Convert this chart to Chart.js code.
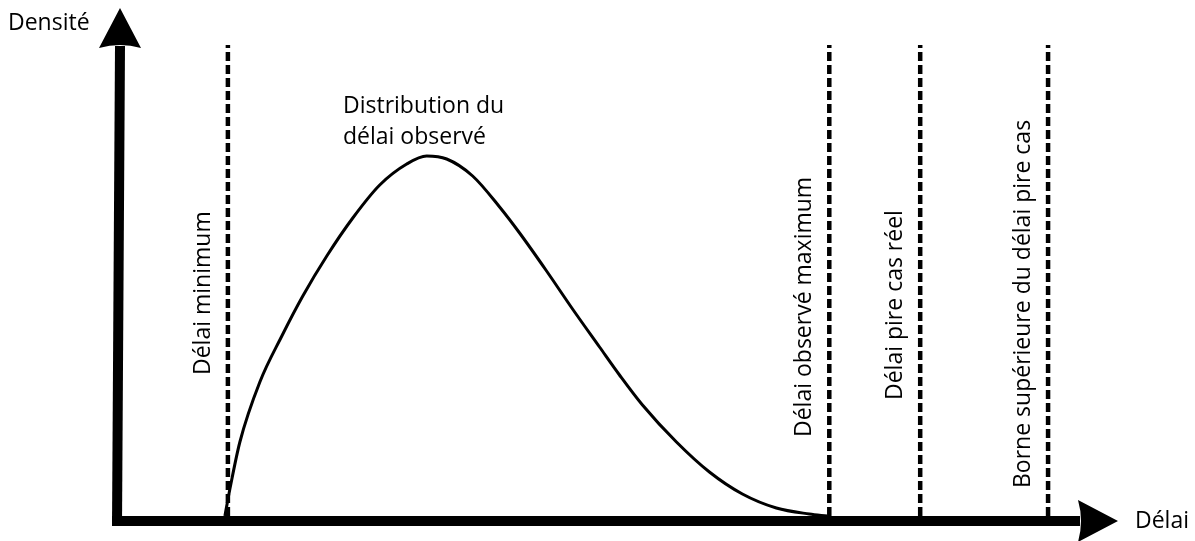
<!DOCTYPE html>
<html>
<head>
<meta charset="utf-8">
<script src="https://cdn.jsdelivr.net/npm/chart.js@4/dist/chart.umd.min.js"></script>
<style>
  body { margin: 0; background: #fff; }
  canvas { display: block; }
</style>
</head>
<body>
<canvas id="delayChart" width="1195" height="541"></canvas>
<script>
// observed delay distribution (x = delay, y = density)
const delays  = [106, 111, 121, 141, 163, 184, 208, 234, 261, 288, 308, 328, 354, 381, 401, 428, 454, 481, 501, 524, 558, 591, 624, 658, 691, 709];
const density = [0,   27,  74,  134, 180, 220, 260, 298, 331, 352, 360, 357, 340, 309, 283, 245, 207, 169, 141, 111, 74,  44,  22,  8,   2,   0];

// vertical reference delays
const markerLabels = ['Délai minimum', 'Délai observé maximum', 'Délai pire cas réel', 'Borne supérieure du délai pire cas'];
const markerDelays = [109, 711, 802, 930];
const markerTop = 471;

const xTitle = 'Délai';
const yTitle = 'Densité';
const curveTitle = ['Distribution du', 'délai observé'];

const FONT = '23px "Open Sans", sans-serif';

// where each vertical label starts (bottom end, pixels)
const markerLabelBottom = [375, 437, 400, 488];

const markerSets = markerDelays.map(function (d) {
    return {
        data: [{ x: d, y: 0 }, { x: d, y: markerTop }],
        borderColor: '#000',
        borderWidth: 4.5,
        borderDash: [9, 4],
        pointRadius: 0,
        clip: false
    };
});

const axesPlugin = {
    id: 'axesPlugin',
    afterDatasetsDraw(chart) {
        const ctx = chart.ctx;
        const xs = chart.scales.x;
        const ys = chart.scales.y;
        const ox = xs.getPixelForValue(0);
        const oy = ys.getPixelForValue(0);
        const xTip = xs.getPixelForValue(xs.max);
        const yTip = ys.getPixelForValue(ys.max);
        const head = 40, half = 21;

        ctx.save();
        ctx.fillStyle = '#000';
        ctx.strokeStyle = '#000';
        ctx.lineWidth = 10;
        ctx.lineCap = 'butt';

        // x axis
        const yc = oy + 5;
        ctx.beginPath();
        ctx.moveTo(ox - 7, yc);
        ctx.lineTo(xTip - head + 2, yc);
        ctx.stroke();
        ctx.beginPath();
        ctx.moveTo(xTip, yc);
        ctx.lineTo(xTip - head, yc - half);
        ctx.quadraticCurveTo(xTip - head + 6, yc, xTip - head, yc + half);
        ctx.closePath();
        ctx.fill();

        // y axis
        ctx.beginPath();
        ctx.moveTo(ox - 2, yc + 5);
        ctx.lineTo(ox + 1, yTip + head - 2);
        ctx.stroke();
        ctx.beginPath();
        ctx.moveTo(ox + 1, yTip);
        ctx.lineTo(ox + 1 - half, yTip + head);
        ctx.quadraticCurveTo(ox + 1, yTip + head - 6, ox + 1 + half, yTip + head);
        ctx.closePath();
        ctx.fill();

        // titles
        ctx.font = FONT;
        ctx.textBaseline = 'alphabetic';
        ctx.textAlign = 'left';
        ctx.fillText(yTitle, 8, 30);
        ctx.fillText(xTitle, xTip + 17, yc + 7);

        ctx.fillText(curveTitle[0], 343, 113);
        ctx.fillText(curveTitle[1], 343, 144);

        // vertical marker labels
        markerLabels.forEach(function (label, i) {
            const px = xs.getPixelForValue(markerDelays[i]) - 18;
            ctx.save();
            ctx.translate(px, markerLabelBottom[i]);
            ctx.rotate(-Math.PI / 2);
            ctx.fillText(label, 0, 0);
            ctx.restore();
        });
        ctx.restore();
    }
};

new Chart(document.getElementById('delayChart'), {
    type: 'line',
    data: {
        datasets: [{
            data: delays.map(function (d, i) { return { x: d, y: density[i] }; }),
            borderColor: '#000',
            borderWidth: 3,
            pointRadius: 0,
            cubicInterpolationMode: 'monotone',
            clip: false
        }].concat(markerSets)
    },
    options: {
        responsive: false,
        animation: false,
        layout: {
            padding: { left: 119, right: 77, top: 8, bottom: 25 }
        },
        plugins: {
            legend: { display: false },
            tooltip: { enabled: false }
        },
        scales: {
            x: { type: 'linear', display: false, min: 0, max: 1000 },
            y: { type: 'linear', display: false, min: 0, max: 508 }
        }
    },
    plugins: [axesPlugin]
});
</script>
</body>
</html>
